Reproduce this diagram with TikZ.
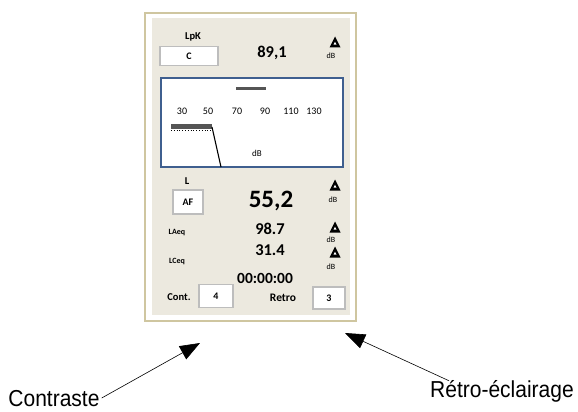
\documentclass[tikz,border=0pt]{standalone}
\usepackage{fontspec}
\setmainfont{Carlito}
\newfontfamily\labelfont{Liberation Sans}
\usetikzlibrary{arrows.meta}
\definecolor{frametan}{HTML}{CFC6A0}
\definecolor{panelbg}{HTML}{ECE9DF}
\definecolor{screenblue}{HTML}{3F5F8F}
\definecolor{boxgray}{HTML}{BDBDBD}
\definecolor{bargray}{HTML}{555555}
\tikzset{
  valbox/.style={draw=boxgray, line width=1.5pt, fill=white, font=\bfseries\fontsize{10}{10}\selectfont},
  caption/.style={font=\bfseries\fontsize{10.5}{10.5}\selectfont},
  smallcaption/.style={font=\bfseries\fontsize{8}{8}\selectfont},
  value/.style={font=\bfseries\fontsize{16.5}{16.5}\selectfont},
  bigvalue/.style={font=\bfseries\fontsize{25}{25}\selectfont},
  unit/.style={font=\fontsize{8}{8}\selectfont},
  scalenum/.style={font=\fontsize{10}{10}\selectfont},
  callout/.style={font=\labelfont\fontsize{21}{21}\selectfont, yscale=1.1, transform shape, inner sep=0pt},
  pointer/.style={-{Triangle[length=20pt,width=15pt]}, line width=0.6pt},
}
% warning sign: black triangle with a small white one inside
\newcommand{\warnsign}[2]{%
  \fill (#1-5.5,#2+5.5) -- (#1+5.5,#2+5.5) -- (#1,#2-5.5) -- cycle;
  \fill[white] (#1-1.5,#2+2.6) -- (#1+1.5,#2+2.6) -- (#1,#2-0.2) -- cycle;
}
\begin{document}
\begin{tikzpicture}[x=1pt,y=-1pt]
\useasboundingbox (0,0) rectangle (578,412);
% housing
\draw[frametan, line width=1.8pt, fill=white] (145,13) rectangle (356,321);
\fill[panelbg] (152,18) rectangle (350,315);

% peak section
\node[caption] (lpk) at (193,37) {LpK};
\node[valbox, minimum width=58pt, minimum height=19pt] (cbox) at (189,56) {C};
\node[value] (peak) at (272,53) {89,1};
\warnsign{335}{42}
\node[unit] (dbpeak) at (331,56) {dB};

% bar graph screen
\draw[screenblue, line width=1.2pt, fill=white] (161,78) rectangle (343,167);
\fill[bargray] (236,87) rectangle (266,90);
\foreach \v/\x in {30/182,50/208,70/237,90/265,110/291,130/314}
  \node[scalenum] (s\v) at (\x,111) {\v};
\fill[bargray] (171,124) rectangle (212,129);
\draw[black, dotted, line width=0.8pt] (171,130) -- (212,130);
\coordinate (barend) at (212,127);
\coordinate (needle) at (221,167);
\draw[line width=1.1pt] (barend) -- (needle);
\node[font=\fontsize{9}{9}\selectfont] (dbscreen) at (257,153) {dB};

% level section
\node[caption] (lbl) at (187,181) {L};
\node[valbox, minimum width=30pt, minimum height=24pt] (afbox) at (188,202) {AF};
\node[bigvalue] (level) at (271,201) {55,2};
\warnsign{335}{185}
\node[unit] (dblevel) at (333,200) {dB};

\node[smallcaption] (laeq) at (177,233) {LAeq};
\node[value] (laeqval) at (270,229) {98.7};
\warnsign{335}{227}
\node[unit] (dblaeq) at (331,240) {dB};

\node[value] (lceqval) at (270,250) {31.4};
\warnsign{335}{252}
\node[unit] (dblceq) at (331,267) {dB};
\node[smallcaption] (lceq) at (177,262) {LCeq};

\node[value, font=\bfseries\fontsize{15.5}{15.5}\selectfont] (timer) at (265,278) {00:00:00};

% settings row
\node[caption] (cont) at (179,297) {Cont.};
\node[valbox, minimum width=34pt, minimum height=23pt] (contbox) at (216,296) {4};
\node[caption, font=\bfseries\fontsize{11.5}{11.5}\selectfont] (retro) at (283,298) {Retro};
\node[valbox, minimum width=32pt, minimum height=22pt] (retrobox) at (329,298) {3};

% callouts
\node[callout, anchor=base] (contraste) at (54,406) {Contraste};
\node[callout, anchor=base] (eclairage) at (502,397) {Rétro-éclairage};
\coordinate (conttail) at ([xshift=2pt,yshift=8pt]contraste.base east);
\coordinate (retrotail) at ([xshift=19pt,yshift=-1pt]eclairage.north west);
\coordinate (conttip) at (200,343);
\coordinate (retrotip) at (345,333);
\draw[pointer] (conttail) -- (conttip);
\draw[pointer] (retrotail) -- (retrotip);
\end{tikzpicture}
\end{document}
